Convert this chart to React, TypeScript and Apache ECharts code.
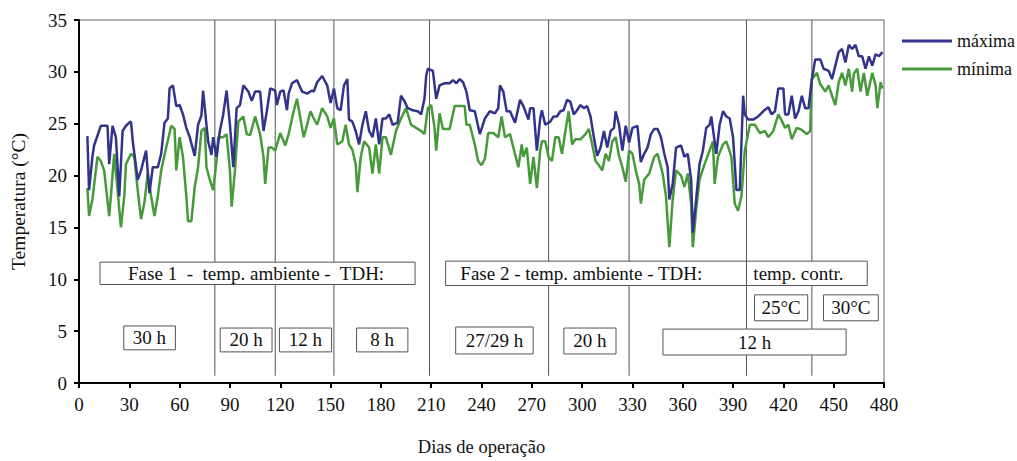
import React, { useEffect, useRef } from "react";
import * as echarts from "echarts";

const FONT = "'Liberation Serif', 'Times New Roman', serif";

const xTicks = [0, 480, 30];
const yTicks = [0, 35, 5];

const maxSeries: [number, number][] = [
  [5,23.8],[6,18.6],[8,21.8],[9,22.9],[13,24.8],[17,24.8],[18,21.1],[20,24.8],[22,23.7],[24,18.0],[26,24.3],[28,24.8],[30,25.1],[31,25.2],[32,23.4],[35,19.6],[37,20.5],[40,22.4],[42,18.3],[44,20.8],[47,20.8],[49,22.1],[51,25.1],[53,25.5],[54,28.4],[56,28.7],[58,26.7],[60,26.8],[62,25.9],[64,24.6],[66,23.7],[69,21.9],[71,24.9],[73,25.8],[74,28.2],[76,24.9],[77,23.3],[79,22.0],[80,23.7],[82,21.8],[84,24.3],[86,25.9],[88,28.2],[90,24.9],[92,20.8],[94,26.5],[96,26.8],[98,28.7],[101,28.1],[103,27.2],[105,28.1],[108,28.1],[110,24.3],[112,26.2],[114,28.4],[117,28.2],[118,26.8],[120,28.1],[122,28.2],[124,26.3],[125,27.9],[127,28.9],[130,29.2],[133,28.1],[136,27.9],[139,28.2],[140,28.1],[142,29.0],[145,29.6],[148,28.7],[150,27.0],[152,28.4],[154,26.5],[156,26.3],[158,28.7],[160,29.3],[161,25.4],[163,25.2],[165,24.3],[167,23.0],[169,24.9],[171,26.2],[173,24.3],[175,23.7],[177,25.5],[179,23.0],[181,25.5],[183,25.5],[185,25.9],[187,24.9],[190,25.1],[192,27.7],[194,27.2],[196,26.5],[199,26.3],[202,26.2],[204,25.9],[206,27.4],[207,29.6],[208,30.3],[211,30.1],[213,27.4],[215,28.7],[218,28.9],[221,28.9],[223,29.2],[225,28.9],[227,29.3],[229,29.0],[231,28.1],[233,26.3],[236,26.2],[239,24.0],[242,25.5],[245,26.2],[248,26.0],[250,26.5],[251,28.7],[253,28.1],[255,26.2],[257,26.2],[260,25.1],[263,27.3],[265,26.7],[268,25.4],[269,26.5],[271,26.5],[273,22.4],[275,25.5],[276,26.3],[278,24.9],[281,25.2],[283,25.7],[285,25.7],[287,26.2],[289,26.3],[291,27.3],[293,27.1],[295,25.9],[297,26.3],[299,26.8],[301,26.5],[303,26.7],[305,25.7],[307,23.7],[309,21.9],[311,22.7],[313,24.3],[315,22.7],[317,24.3],[319,24.6],[320,26.2],[322,24.9],[324,22.4],[326,24.8],[328,23.2],[330,24.6],[333,24.8],[335,21.3],[337,22.1],[339,22.7],[341,24.0],[343,24.5],[345,24.5],[347,23.7],[349,22.1],[351,20.8],[352,17.7],[354,19.2],[356,22.7],[359,22.9],[361,21.8],[363,22.1],[365,19.6],[366,14.5],[368,17.7],[370,21.1],[372,22.4],[374,24.6],[376,24.9],[377,25.7],[379,23.3],[380,22.1],[382,24.9],[384,26.2],[386,25.7],[388,25.5],[390,23.7],[392,18.6],[394,18.6],[396,27.7],[397,25.9],[399,25.4],[402,25.4],[405,25.7],[408,26.2],[411,26.6],[413,25.9],[415,26.2],[417,28.4],[420,28.4],[421,25.9],[423,25.9],[425,27.7],[427,25.5],[429,26.2],[431,27.7],[433,26.5],[435,26.5],[437,29.3],[439,31.2],[442,31.2],[444,30.3],[447,30.1],[449,29.3],[451,30.6],[453,31.9],[455,32.2],[457,30.9],[459,32.6],[461,32.2],[463,32.6],[465,31.5],[467,31.5],[469,30.3],[471,31.5],[473,30.6],[475,31.7],[477,31.5],[479,31.9]
];

const minSeries: [number, number][] = [
  [5,18.8],[6,16.1],[8,17.7],[11,21.8],[13,21.4],[15,20.5],[18,16.1],[19,18.0],[21,22.1],[23,18.6],[25,15.0],[27,18.0],[28,21.1],[31,22.1],[33,21.8],[35,18.6],[37,15.8],[39,17.4],[41,20.2],[43,18.0],[45,16.1],[47,18.0],[49,20.5],[52,22.7],[55,24.8],[57,24.5],[58,20.5],[60,23.7],[62,21.8],[64,18.0],[65,15.6],[67,15.6],[69,18.9],[71,20.8],[73,24.3],[75,24.6],[76,20.8],[78,19.6],[80,18.6],[82,21.4],[83,23.7],[86,23.7],[88,24.0],[90,20.5],[91,17.0],[93,20.5],[95,25.2],[98,25.7],[100,24.0],[102,23.9],[105,25.7],[108,24.0],[110,21.8],[111,19.2],[113,22.7],[115,22.7],[117,22.4],[120,24.1],[123,22.9],[125,24.0],[128,26.2],[130,27.4],[132,25.5],[134,23.7],[136,24.9],[138,26.2],[140,25.5],[142,24.9],[145,26.5],[148,25.7],[150,24.6],[152,25.5],[154,23.0],[157,23.3],[159,24.9],[161,23.0],[163,22.5],[165,21.1],[166,18.4],[168,21.8],[170,23.3],[173,22.7],[175,20.2],[177,23.0],[179,20.2],[181,23.7],[183,23.7],[186,22.0],[189,24.3],[192,25.5],[195,26.5],[198,24.9],[201,24.6],[204,24.3],[206,24.0],[208,26.5],[210,26.8],[212,24.6],[213,22.4],[215,26.0],[217,24.5],[221,24.5],[224,26.7],[227,26.7],[230,26.7],[231,24.9],[233,24.9],[236,23.0],[238,21.4],[240,21.0],[242,21.6],[244,24.1],[247,24.1],[250,23.7],[252,25.7],[254,23.7],[257,24.0],[259,22.7],[262,20.8],[264,23.0],[265,21.8],[267,22.7],[269,19.2],[271,21.8],[273,18.8],[275,22.4],[276,23.3],[278,23.3],[280,21.8],[282,21.4],[284,23.7],[286,23.7],[288,22.1],[290,24.3],[292,26.2],[294,23.0],[296,23.5],[299,23.5],[302,24.0],[304,24.5],[306,23.0],[308,21.4],[310,21.0],[312,20.5],[314,22.1],[316,21.4],[318,23.3],[320,23.7],[322,21.9],[324,20.8],[326,19.4],[328,22.4],[330,22.1],[332,20.5],[334,19.2],[335,17.3],[337,19.6],[340,20.2],[343,21.8],[345,22.1],[348,20.2],[350,18.0],[352,13.1],[354,17.7],[356,20.5],[359,20.0],[361,18.9],[363,20.2],[365,17.3],[366,13.1],[368,16.7],[370,19.6],[373,21.1],[376,22.4],[378,23.3],[379,19.2],[381,21.8],[384,23.0],[386,23.3],[389,21.8],[391,17.3],[393,16.6],[395,18.0],[397,22.4],[400,24.9],[403,24.9],[406,24.1],[409,24.3],[411,23.7],[414,24.3],[417,25.9],[419,25.3],[421,24.6],[423,24.9],[425,23.5],[428,24.6],[431,24.4],[434,24.0],[436,24.3],[437,29.3],[440,29.9],[442,28.8],[445,28.1],[447,28.7],[449,27.7],[451,26.8],[453,29.0],[455,29.9],[457,28.7],[459,30.3],[461,28.1],[462,29.8],[464,30.3],[466,28.1],[468,29.9],[470,27.7],[473,29.9],[475,28.7],[476,26.5],[478,29.0],[479,28.4]
];

// phase boundaries (days)
const phaseLines = [81, 117, 152, 209, 280, 328, 398, 437];

// annotation boxes: [xStart, xEnd, yLow, yHigh, textX]
const boxRanges: number[][] = [
  [12.5, 200.4, 9.5, 11.65, 105.6],
  [218.6, 398, 9.4, 11.75, 299.5],
  [398, 470, 9.4, 11.75, 429],
  [26.7, 57.5, 3.2, 5.5, 42],
  [84.2, 115.1, 3.0, 5.3, 99.6],
  [119.5, 150.6, 3.0, 5.3, 135],
  [165.5, 196.1, 3.0, 5.3, 180.8],
  [224.6, 270.8, 2.8, 5.4, 247.7],
  [289.1, 320.2, 2.8, 5.3, 304.6],
  [348.2, 457.4, 2.7, 5.2, 402.8],
  [402.8, 434.5, 6.0, 8.5, 418.6],
  [443.9, 476.6, 6.0, 8.5, 460.2],
];
const boxLabels = [
  "Fase 1  -  temp. ambiente -  TDH:",
  "Fase 2 - temp. ambiente - TDH:",
  "temp. contr.",
  "30 h",
  "20 h",
  "12 h",
  "8 h",
  "27/29 h",
  "20 h",
  "12 h",
  "25°C",
  "30°C",
];

export default function App() {
  const ref = useRef<HTMLDivElement>(null);
  useEffect(() => {
    if (!ref.current) return;
    const chart = echarts.init(ref.current, null, { renderer: "svg" });
    chart.setOption({
      animation: false,
      backgroundColor: "#fff",
      grid: {
        left: 79,
        right: 133,
        top: 20,
        bottom: 71,
        show: true,
        borderColor: "#666",
        borderWidth: 1,
      },
      legend: {
        orient: "vertical",
        left: 897,
        top: 27,
        icon: "rect",
        itemWidth: 50,
        itemHeight: 3,
        itemGap: 10,
        data: ["máxima", "mínima"],
        textStyle: { fontFamily: FONT, fontSize: 18, color: "#111" },
      },
      xAxis: {
        type: "value",
        min: xTicks[0],
        max: xTicks[1],
        interval: xTicks[2],
        name: "Dias de operação",
        nameLocation: "middle",
        nameGap: 54,
        nameTextStyle: { fontFamily: FONT, fontSize: 18.5, color: "#111" },
        axisLine: { show: true, onZero: false, lineStyle: { color: "#000", width: 2 } },
        axisTick: { show: true, length: 5, lineStyle: { color: "#000", width: 2 } },
        axisLabel: { fontFamily: FONT, fontSize: 19, color: "#111", margin: 12 },
        splitLine: { show: false },
      },
      yAxis: {
        type: "value",
        min: yTicks[0],
        max: yTicks[1],
        interval: yTicks[2],
        name: "Temperatura (°C)",
        nameLocation: "middle",
        nameGap: 51,
        nameTextStyle: { fontFamily: FONT, fontSize: 19.5, color: "#111" },
        axisLine: { show: true, lineStyle: { color: "#000", width: 2 } },
        axisTick: { show: true, length: 5, lineStyle: { color: "#000", width: 2 } },
        axisLabel: { fontFamily: FONT, fontSize: 19, color: "#111", margin: 12 },
        splitLine: { show: false },
      },
      series: [
        {
          type: "custom",
          name: "phases",
          z: 1,
          silent: true,
          data: phaseLines.map((d) => [d, 35]),
          renderItem: (params: any, api: any) => {
            const d = api.value(0);
            const p0 = api.coord([d, 0.7]);
            const p1 = api.coord([d, 35]);
            return {
              type: "line",
              shape: { x1: p0[0], y1: p0[1], x2: p1[0], y2: p1[1] },
              style: { stroke: "#555", lineWidth: 1 },
            };
          },
        },
        {
          type: "line",
          name: "máxima",
          z: 3,
          data: maxSeries,
          showSymbol: false,
          symbol: "none",
          lineStyle: { color: "#33338c", width: 2.5 },
          itemStyle: { color: "#33338c" },
        },
        {
          type: "line",
          name: "mínima",
          z: 2,
          data: minSeries,
          showSymbol: false,
          symbol: "none",
          lineStyle: { color: "#479a3a", width: 2.5 },
          itemStyle: { color: "#479a3a" },
        },
        {
          type: "custom",
          name: "boxes",
          z: 5,
          silent: true,
          data: boxRanges,
          renderItem: (params: any, api: any) => {
            const x1 = api.value(0), x2 = api.value(1), y1 = api.value(2), y2 = api.value(3), tx = api.value(4);
            const a = api.coord([x1, y2]);
            const b = api.coord([x2, y1]);
            const t = api.coord([tx, (y1 + y2) / 2]);
            return {
              type: "group",
              children: [
                {
                  type: "rect",
                  shape: { x: a[0], y: a[1], width: b[0] - a[0], height: b[1] - a[1] },
                  style: { fill: "#fff", stroke: "#555", lineWidth: 1 },
                },
                {
                  type: "text",
                  x: t[0],
                  y: t[1],
                  style: {
                    text: boxLabels[params.dataIndex],
                    fontFamily: FONT,
                    fontSize: 19,
                    fill: "#111",
                    align: "center",
                    verticalAlign: "middle",
                  },
                },
              ],
            };
          },
        },
      ],
    });
    return () => chart.dispose();
  }, []);
  return (
    <div
      ref={ref}
      style={{ position: "absolute", left: 0, top: 0, width: 1017, height: 461 }}
    />
  );
}
